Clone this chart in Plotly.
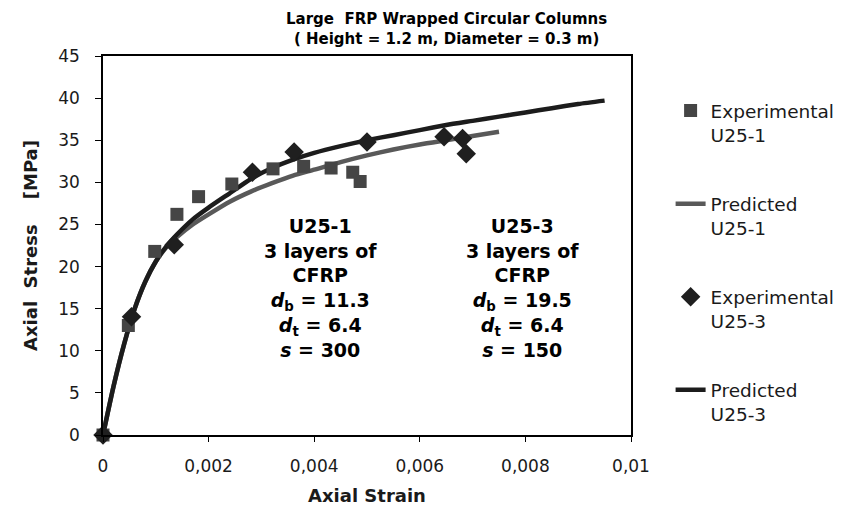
import plotly.graph_objects as go

# Experimental U25-1 (squares)
exp1_strain = [0, 0.00048, 0.00098, 0.0014, 0.00181, 0.00244, 0.00322, 0.0038, 0.00432, 0.00473, 0.00487]
exp1_stress = [0, 13.0, 21.8, 26.2, 28.3, 29.8, 31.6, 31.9, 31.7, 31.2, 30.1]

# Experimental U25-3 (diamonds)
exp3_strain = [0, 0.00054, 0.00135, 0.00283, 0.00362, 0.0050, 0.00646, 0.00681, 0.00688]
exp3_stress = [0, 14.05, 22.6, 31.2, 33.6, 34.8, 35.4, 35.2, 33.4]

# Predicted U25-1 (grey line)
pred1_strain = [0, 0.0002, 0.0004, 0.0006, 0.0008, 0.001, 0.0012, 0.0014, 0.0017, 0.002, 0.0024,
                0.0028, 0.0032, 0.0036, 0.004, 0.0045, 0.005, 0.0055, 0.006, 0.0065, 0.007, 0.0075]
pred1_stress = [0, 5.8, 10.8, 15.0, 18.2, 20.6, 22.3, 23.5, 25.0, 26.2, 27.7,
                28.9, 29.9, 30.8, 31.5, 32.4, 33.2, 33.9, 34.5, 35.0, 35.5, 36.0]

# Predicted U25-3 (black line)
pred3_strain = [0, 0.0002, 0.0004, 0.0006, 0.0008, 0.001, 0.0012, 0.0014, 0.0017, 0.002, 0.0024,
                0.0028, 0.0032, 0.0036, 0.004, 0.0045, 0.005, 0.0055, 0.006, 0.0065, 0.007,
                0.0075, 0.008, 0.0085, 0.009, 0.0095]
pred3_stress = [0, 5.8, 10.8, 15.0, 18.2, 20.6, 22.4, 23.8, 25.6, 27.0, 28.7,
                30.4, 31.7, 32.7, 33.5, 34.3, 35.0, 35.6, 36.2, 36.8, 37.3,
                37.8, 38.3, 38.8, 39.3, 39.7]

x_ticks = [0, 0.002, 0.004, 0.006, 0.008, 0.01]
x_ticklabels = ["0", "0,002", "0,004", "0,006", "0,008", "0,01"]
y_ticks = [0, 5, 10, 15, 20, 25, 30, 35, 40, 45]

FONT = "DejaVu Sans"
TXT = "#1a1a1a"

fig = go.Figure()

fig.add_trace(go.Scatter(
    x=pred1_strain, y=pred1_stress, mode="lines", name="Predicted<br>U25-1",
    line=dict(color="#595959", width=4.5, shape="spline", smoothing=0.6),
    legendgroup="g2", legendrank=2, cliponaxis=False))
fig.add_trace(go.Scatter(
    x=pred3_strain, y=pred3_stress, mode="lines", name="Predicted<br>U25-3",
    line=dict(color="#1c1c1c", width=4.5, shape="spline", smoothing=0.6),
    legendgroup="g4", legendrank=4, cliponaxis=False))
fig.add_trace(go.Scatter(
    x=exp1_strain, y=exp1_stress, mode="markers", name="Experimental<br>U25-1",
    marker=dict(symbol="square", size=13, color="#454545"),
    legendgroup="g1", legendrank=1, cliponaxis=False))
fig.add_trace(go.Scatter(
    x=exp3_strain, y=exp3_stress, mode="markers", name="Experimental<br>U25-3",
    marker=dict(symbol="diamond", size=15, color="#1f1f1f"),
    legendgroup="g3", legendrank=3, cliponaxis=False))

block1 = ("<b>U25-1<br>3 layers of<br>CFRP<br><i>d</i><sub>b</sub> = 11.3<br>"
          "<i>d</i><sub>t</sub> = 6.4<br><i>s</i> = 300</b>")
block2 = ("<b>U25-3<br>3 layers of<br>CFRP<br><i>d</i><sub>b</sub> = 19.5<br>"
          "<i>d</i><sub>t</sub> = 6.4<br><i>s</i> = 150</b>")

fig.add_annotation(x=0.00411, y=17.4, xref="x", yref="y", text=block1, showarrow=False,
                   align="center", font=dict(family=FONT, size=19, color="#000"))
fig.add_annotation(x=0.00795, y=17.4, xref="x", yref="y", text=block2, showarrow=False,
                   align="center", font=dict(family=FONT, size=19, color="#000"))

# Title as an annotation above the plot area
fig.add_annotation(
    x=(446 - 103) / 528, y=1 + (56 - 29) / 379, xref="paper", yref="paper",
    xanchor="center", yanchor="middle", showarrow=False, align="center",
    text="<b>Large\u00a0 FRP Wrapped Circular Columns<br>( Height = 1.2 m, Diameter = 0.3 m)</b>",
    font=dict(family=FONT, size=15, color="#000"))

fig.update_layout(
    width=850, height=513,
    margin=dict(l=103, r=219, t=56, b=78, autoexpand=False),
    paper_bgcolor="white", plot_bgcolor="white",
    separators=",.",
    legend=dict(
        x=1.075, xanchor="left", y=0.905, yanchor="top",
        font=dict(family=FONT, size=18.5, color=TXT),
        valign="top", tracegroupgap=42, bgcolor="rgba(0,0,0,0)",
        traceorder="grouped"),
    xaxis=dict(
        range=[0, 0.01], tickvals=x_ticks, ticktext=x_ticklabels,
        showgrid=False, zeroline=False, automargin=False,
        showline=True, linecolor="#000", linewidth=1.5, mirror=True,
        ticks="outside", ticklen=5, tickcolor="#000", tickwidth=1,
        tickfont=dict(family=FONT, size=17, color=TXT),
        ticklabelstandoff=10,
        title=dict(text="<b>Axial Strain</b>", font=dict(family=FONT, size=18, color=TXT), standoff=14)),
    yaxis=dict(
        range=[0, 45], tickvals=y_ticks,
        showgrid=False, zeroline=False, automargin=False,
        showline=True, linecolor="#000", linewidth=1.5, mirror=True,
        ticks="outside", ticklen=6, tickcolor="#000", tickwidth=1,
        tickfont=dict(family=FONT, size=17, color=TXT),
        ticklabelstandoff=12,
        title=dict(text="<b>Axial\u00a0 Stress\u00a0\u00a0\u00a0 [MPa]</b>",
                   font=dict(family=FONT, size=18, color=TXT), standoff=16)),
)

fig.write_html("out.html")
